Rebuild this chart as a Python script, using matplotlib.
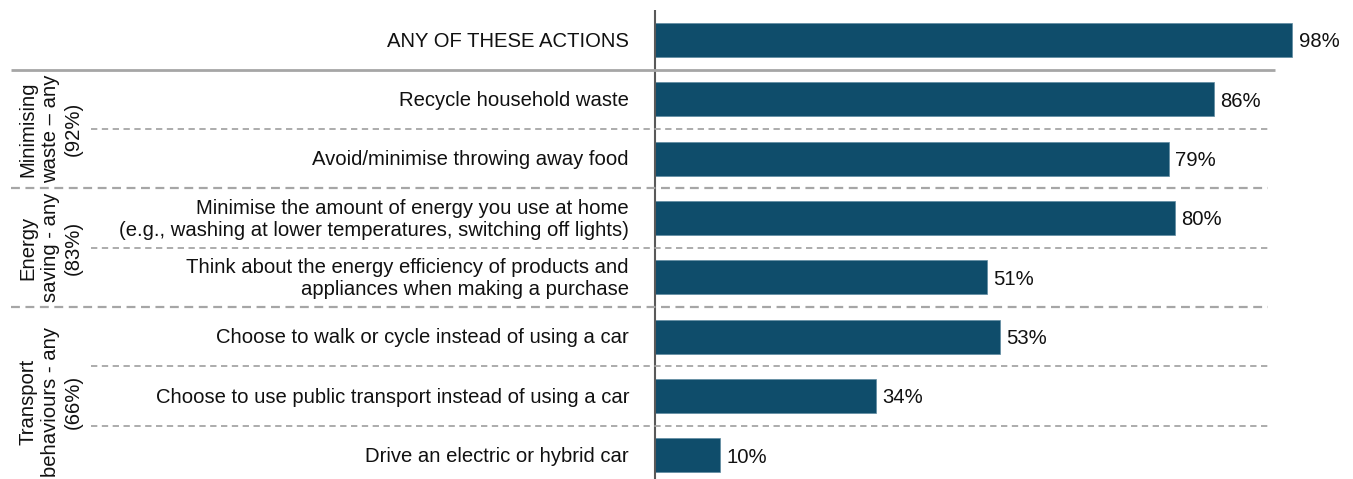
import matplotlib
matplotlib.use("Agg")
import matplotlib.pyplot as plt
from matplotlib.transforms import blended_transform_factory

plt.rcParams['font.family'] = ['Liberation Sans', 'DejaVu Sans']

categories = [
    "ANY OF THESE ACTIONS",
    "Recycle household waste",
    "Avoid/minimise throwing away food",
    "Minimise the amount of energy you use at home\n(e.g., washing at lower temperatures, switching off lights)",
    "Think about the energy efficiency of products and\nappliances when making a purchase",
    "Choose to walk or cycle instead of using a car",
    "Choose to use public transport instead of using a car",
    "Drive an electric or hybrid car",
]
values = [98, 86, 79, 80, 51, 53, 34, 10]
value_labels = ["98%", "86%", "79%", "80%", "51%", "53%", "34%", "10%"]
groups = [
    ("Minimising\nwaste \u2013 any\n(92%)", 1, 2),
    ("Energy\nsaving - any\n(83%)", 3, 4),
    ("Transport\nbehaviours - any\n(66%)", 5, 7),
]

W, H = 1353, 479
fig = plt.figure(figsize=(W / 100, H / 100), dpi=100)
ax = fig.add_axes([655 / W, 0, 1 - 655 / W, (H - 10) / H])

FS = 14.6
bar_color = "#0f4d6b"
ypos = list(range(len(values)))
ax.barh(ypos, values, height=0.57, color=bar_color, edgecolor="#5f8aa0", linewidth=0.5)
ax.set_xlim(0, (W - 655) / 6.5)
ax.set_ylim(7.4, -0.505)
ax.axis("off")
ax.plot([0, 0], [-0.505, 7.4], color="#595959", lw=1.5, clip_on=False, solid_capstyle="butt")

for y, v, lab in zip(ypos, values, value_labels):
    ax.text(v + 1.0, y + 0.03, lab, va="center", ha="left", fontsize=FS, color="#111111")

tr = blended_transform_factory(fig.transFigure, ax.transData)
for y, lab in zip(ypos, categories):
    ax.text(629 / W, y + 0.02, lab, transform=tr, ha="right", va="center", fontsize=FS,
            color="#111111", linespacing=1.2)

# separators
ax.plot([11 / W, 1275 / W], [0.5, 0.5], transform=tr, color="#a6a6a6", lw=2.0,
        clip_on=False, solid_capstyle="butt")
group_seps = [2.5, 4.5]
inner_seps = [1.5, 3.5, 5.5, 6.5]
for s in group_seps:
    ax.plot([11 / W, 1268 / W], [s, s], transform=tr, color="#a6a6a6", lw=1.6,
            ls=(0, (4, 2.5)), clip_on=False)
for s in inner_seps:
    ax.plot([91 / W, 1268 / W], [s, s], transform=tr, color="#a6a6a6", lw=1.3,
            ls=(0, (3.5, 2.5)), clip_on=False)

for lab, a, b in groups:
    yc = (a + b) / 2 + (0.1 if b == 7 else 0)
    ax.text(51 / W, yc, lab, transform=tr, rotation=90, ha="center", va="center",
            fontsize=FS, color="#111111", linespacing=1.25, multialignment="center")

fig.savefig("out.png", dpi=100)
